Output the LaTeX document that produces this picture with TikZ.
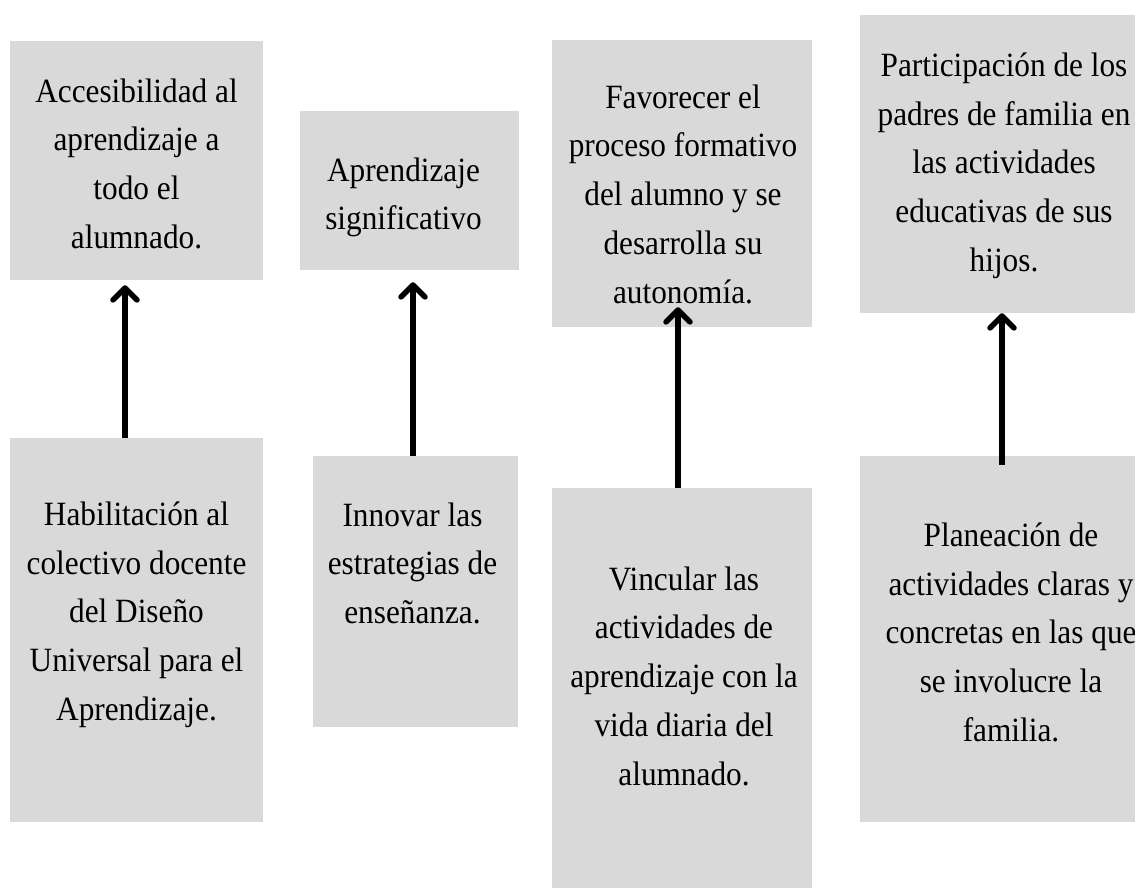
\documentclass[tikz,border=0pt]{standalone}
\usepackage{fontspec}
\setmainfont{Liberation Serif}[FakeStretch=0.92]
\usetikzlibrary{arrows.meta}
\definecolor{boxgray}{HTML}{D9D9D9}
\tikzset{
  box/.style={rectangle, fill=boxgray, draw=none, inner sep=0pt},
  txt/.style={anchor=north, align=center, inner sep=0pt, text=black,
    font=\fontsize{34}{48.7}\selectfont},
  arr/.style={line width=5.5pt, black, -{Straight Barb[length=12pt,width=24pt,round]}}
}
\begin{document}
\begin{tikzpicture}[x=1pt,y=-1pt]
\useasboundingbox (0,0) rectangle (1135,888);
% top boxes
\node[box, minimum width=253pt, minimum height=239pt] (a1) at (136.5,160.5) {};
\node[box, minimum width=219pt, minimum height=159pt] (a2) at (409.5,190.5) {};
\node[box, minimum width=260pt, minimum height=287pt] (a3) at (682,183.5) {};
\node[box, minimum width=290pt, minimum height=298pt] (a4) at (1005,164) {};
% bottom boxes
\node[box, minimum width=253pt, minimum height=384pt] (b1) at (136.5,630) {};
\node[box, minimum width=205pt, minimum height=271pt] (b2) at (415.5,591.5) {};
\node[box, minimum width=260pt, minimum height=410pt] (b3) at (682,693) {};
\node[box, minimum width=300pt, minimum height=366pt] (b4) at (1010,639) {};
% texts
\node[txt] (a1t) at (136.5,78.5) {Accesibilidad al\\aprendizaje a\\todo el\\alumnado.};
\node[txt] (a2t) at (403.5,157.5) {Aprendizaje\\significativo};
\node[txt] (a3t) at (683,84.5) {Favorecer el\\proceso formativo\\del alumno y se\\desarrolla su\\autonomía.};
\node[txt] (a4t) at (1004,52.5) {Participación de los\\padres de familia en\\las actividades\\educativas de sus\\hijos.};
\node[txt] (b1t) at (136.5,501.5) {Habilitación al\\colectivo docente\\del Diseño\\Universal para el\\Aprendizaje.};
\node[txt] (b2t) at (412.5,502.5) {Innovar las\\estrategias de\\enseñanza.};
\node[txt] (b3t) at (684,566.5) {Vincular las\\actividades de\\aprendizaje con la\\vida diaria del\\alumnado.};
\node[txt] (b4t) at (1011,522.5) {Planeación de\\actividades claras y\\concretas en las que\\se involucre la\\familia.};
% arrows
\draw[arr] ([xshift=-11.5pt]b1.north) -- ([xshift=-11.5pt,yshift=-5pt]a1.south);
\draw[arr] ([xshift=-2.5pt]b2.north) -- ([xshift=3.5pt,yshift=-12pt]a2.south);
\draw[arr] ([xshift=-4pt]b3.north) -- ([xshift=-4pt,yshift=20pt]a3.south);
\draw[arr] ([xshift=-8pt,yshift=-9pt]b4.north) -- ([xshift=-3pt]a4.south);
\end{tikzpicture}
\end{document}
